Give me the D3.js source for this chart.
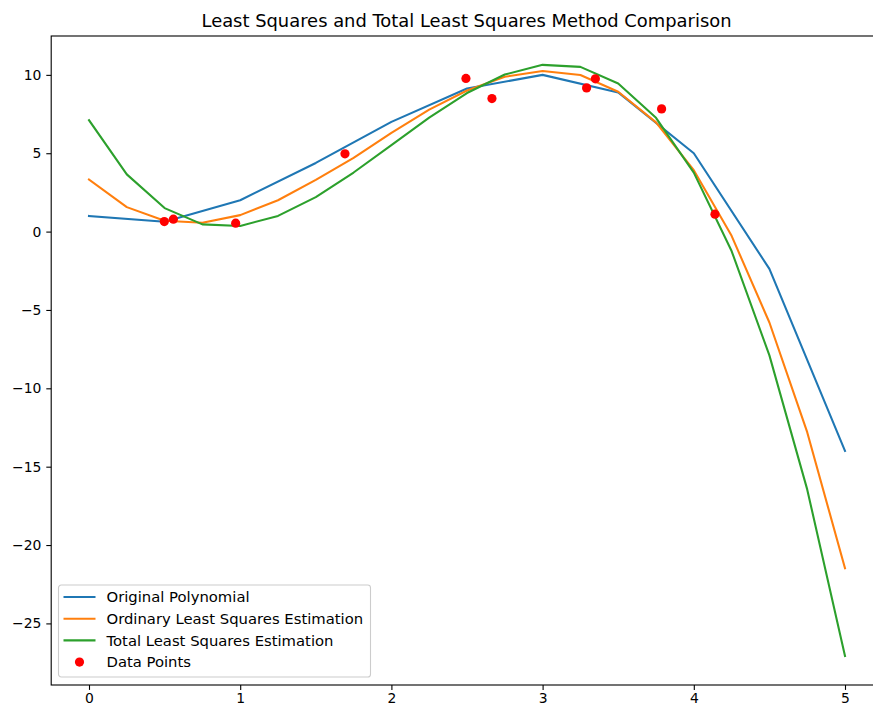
<!DOCTYPE html>
<html>
<head>
<meta charset="utf-8">
<script src="https://cdn.jsdelivr.net/npm/d3@7"></script>
<style>
  body { margin: 0; background: #fff; }
  svg { display: block; font-family: "DejaVu Sans", sans-serif; }
</style>
</head>
<body>
<script>
// values
var origX = [0, 0.5, 1, 1.5, 2, 2.5, 3, 3.5, 4, 4.5, 5];
var origY = [1.0, 0.63, 2.0, 4.38, 7.0, 9.13, 10.0, 8.88, 5.0, -2.38, -14.0];

var fitX = [0, 0.25, 0.5, 0.75, 1, 1.25, 1.5, 1.75, 2, 2.25, 2.5, 2.75, 3, 3.25, 3.5, 3.75, 4, 4.25, 4.5, 4.75, 5];
var olsY = [3.32, 1.56, 0.69, 0.56, 1.05, 2.0, 3.3, 4.7, 6.3, 7.78, 9.0, 9.88, 10.25, 9.99, 8.92, 6.97, 3.92, -0.27, -5.8, -12.8, -21.48];
var tlsY = [7.11, 3.65, 1.5, 0.46, 0.36, 1.0, 2.2, 3.77, 5.52, 7.27, 8.84, 10.02, 10.64, 10.51, 9.45, 7.26, 3.76, -1.24, -7.9, -16.45, -27.08];

var ptsX = [0.498, 0.558, 0.970, 1.693, 2.493, 2.665, 3.291, 3.349, 3.787, 4.14];
var ptsY = [0.64, 0.79, 0.54, 4.96, 9.77, 8.49, 9.17, 9.75, 7.83, 1.11];

var xTicks = [0, 1, 2, 3, 4, 5];
var yTicks = [-25, -20, -15, -10, -5, 0, 5, 10];

var seriesNames = ["Original Polynomial", "Ordinary Least Squares Estimation", "Total Least Squares Estimation", "Data Points"];
var seriesColors = ["#1f77b4", "#ff7f0e", "#2ca02c", "red"];

var drawChart = () => {
  const W = 873, H = 706;
  const mLeft = 51.2, mRight = 882.8, mTop = 36, mBottom = 685;

  var svg = d3.select("body").append("svg")
    .attr("width", W)
    .attr("height", H);

  var x = d3.scaleLinear().domain([-0.25, 5.25]).range([mLeft, mRight]);
  var y = d3.scaleLinear().domain([-28.93, 12.48]).range([mBottom, mTop]);

  // title
  svg.append("text")
    .attr("x", 466.5)
    .attr("y", 27)
    .attr("text-anchor", "middle")
    .attr("font-size", "17.9px")
    .text("Least Squares and Total Least Squares Method Comparison");

  var line = d3.line()
    .x(d => x(d[0]))
    .y(d => y(d[1]));

  var plot = svg.append("g");

  var lines = [
    d3.zip(origX, origY),
    d3.zip(fitX, olsY),
    d3.zip(fitX, tlsY)
  ];

  lines.forEach((pts, i) => {
    plot.append("path")
      .datum(pts)
      .attr("d", line)
      .attr("fill", "none")
      .attr("stroke", seriesColors[i])
      .attr("stroke-width", 2.08)
      .attr("stroke-linejoin", "round")
      .attr("stroke-linecap", "square");
  });

  plot.selectAll("circle.pt")
    .data(d3.zip(ptsX, ptsY))
    .enter()
    .append("circle")
    .attr("class", "pt")
    .attr("cx", d => x(d[0]))
    .attr("cy", d => y(d[1]))
    .attr("r", 4.6)
    .attr("fill", "red");

  // axes
  var xAxis = svg.append("g")
    .attr("transform", "translate(0," + mBottom + ")")
    .call(d3.axisBottom(x).tickValues(xTicks).tickSize(4.9).tickPadding(3.5).tickFormat(d3.format("d")));

  var yAxis = svg.append("g")
    .attr("transform", "translate(" + mLeft + ",0)")
    .call(d3.axisLeft(y).tickValues(yTicks).tickSize(4.9).tickPadding(4.9).tickFormat(d3.format("d")));

  [xAxis, yAxis].forEach(a => {
    a.select(".domain").remove();
    a.selectAll(".tick line").attr("stroke", "#000").attr("stroke-width", 1.1);
    a.selectAll(".tick text")
      .attr("fill", "#000")
      .attr("font-size", "13.9px")
      .attr("font-family", "DejaVu Sans, sans-serif");
  });

  // spines
  svg.append("rect")
    .attr("x", mLeft)
    .attr("y", mTop)
    .attr("width", mRight - mLeft)
    .attr("height", mBottom - mTop)
    .attr("fill", "none")
    .attr("stroke", "#000")
    .attr("stroke-width", 1.1);

  // legend
  var lg = svg.append("g").attr("transform", "translate(58.5,585)");
  lg.append("rect")
    .attr("width", 312)
    .attr("height", 92)
    .attr("rx", 2.8)
    .attr("fill", "white")
    .attr("fill-opacity", 0.8)
    .attr("stroke", "#cccccc")
    .attr("stroke-width", 1.1);

  seriesNames.forEach((name, i) => {
    var cy = 12 + i * 21.7;
    if (i < 3) {
      lg.append("line")
        .attr("x1", 5).attr("x2", 37)
        .attr("y1", cy).attr("y2", cy)
        .attr("stroke", seriesColors[i])
        .attr("stroke-width", 2.08);
    } else {
      lg.append("circle")
        .attr("cx", 21).attr("cy", cy)
        .attr("r", 4.6)
        .attr("fill", seriesColors[i]);
    }
    lg.append("text")
      .attr("x", 48)
      .attr("y", cy + 5.3)
      .attr("font-size", "14.8px")
      .text(name);
  });
}

drawChart();
</script>
</body>
</html>
